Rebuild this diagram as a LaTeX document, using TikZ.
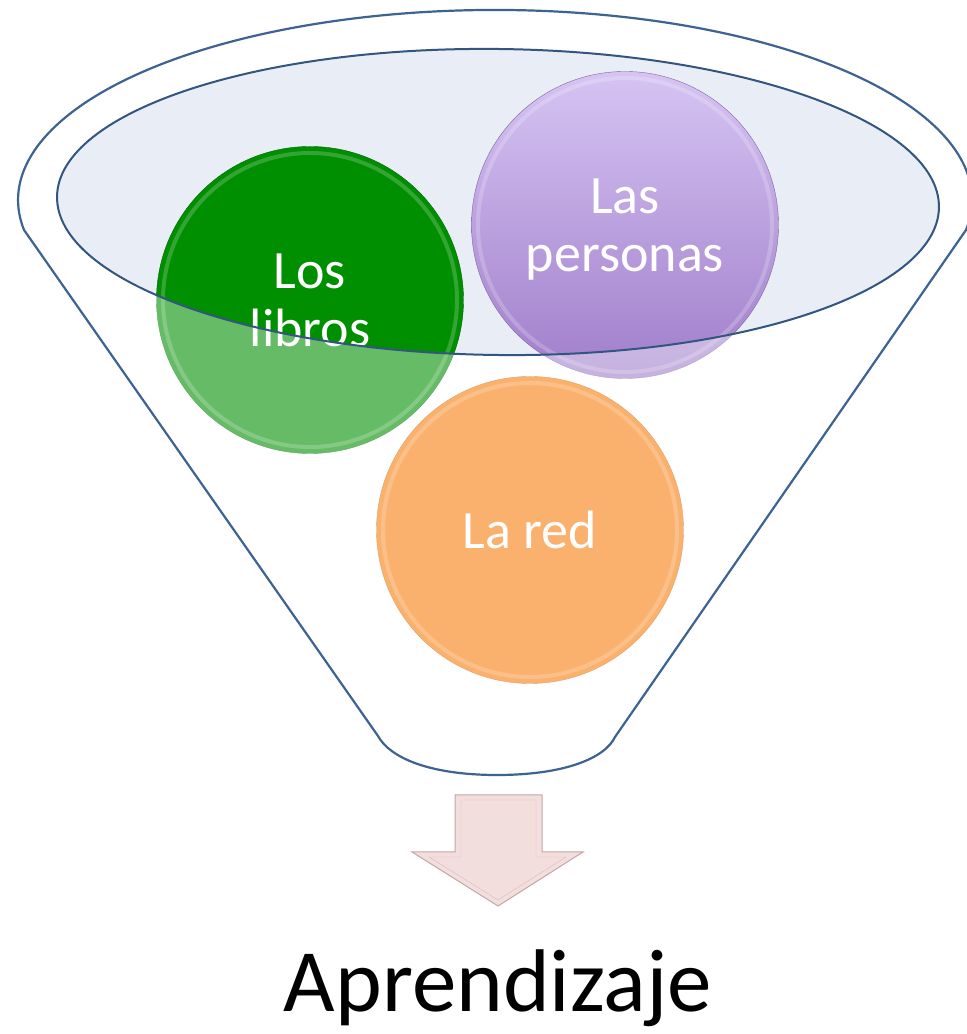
\documentclass[tikz,border=0pt]{standalone}
\usepackage{fontspec}
\setmainfont{Carlito}
\usepackage{tikz}
\usetikzlibrary{calc}
\definecolor{funnelline}{RGB}{62,98,145}
\definecolor{mouthline}{RGB}{50,86,128}
\definecolor{mouthfill}{RGB}{233,237,245}
\definecolor{librosgreen}{RGB}{0,143,0}
\definecolor{redorange}{RGB}{248,126,12}
\definecolor{persontop}{RGB}{214,196,243}
\definecolor{personbot}{RGB}{160,126,202}
\definecolor{arrowfill}{RGB}{243,222,222}
\definecolor{arrowline}{RGB}{196,166,166}

\begin{document}
\begin{tikzpicture}[x=1pt, y=1pt,
	ball/.style={circle, minimum size=307pt, inner sep=0pt, text=white, align=center, font=\fontsize{54}{58}\selectfont}]
	\useasboundingbox (0,0) rectangle (967,1034);
	\clip (0,0) rectangle (967,1034);
	\def\funnelpath{(966,804) arc[start angle=-9.1, end angle=189.1, x radius=477, y radius=190] -- (378,298) .. controls (390,276) and (430,259) .. (497,259) .. controls (565,259) and (605,276) .. (615,297) -- cycle}
	\def\mouthpath{(498,832) ellipse [x radius=441, y radius=153, rotate=-0.7]}
%
	\fill[white] \funnelpath;
	\fill[mouthfill] \mouthpath;
%
	\node[ball, fill=librosgreen, draw=green!40!black] (libros) at (310,734) {Los\\libros};
	\node[ball, top color=persontop, bottom color=personbot, draw=personbot!80!black] (personas) at (625,809) {Las\\\raisebox{0pt}[\height][0pt]{personas}};
	\node[ball, fill=redorange, draw=redorange!80!black] (red) at (530,504) {La red};
	\draw[white, opacity=.2, line width=4] (libros.center) circle[radius=147];
	\draw[white, opacity=.2, line width=4] (personas.center) circle[radius=147];
	\draw[white, opacity=.2, line width=4] (red.center) circle[radius=147];
%
	\fill[white, opacity=.4, even odd rule] \funnelpath \mouthpath;
	\draw[mouthline, line width=2] \mouthpath;
	\draw[funnelline, line width=2.2] \funnelpath;
%
	\filldraw[fill=arrowfill, draw=arrowline, line width=1] (455,239) -- (542,239) -- (542,182) -- (583,182) -- (498,128) -- (412,182) -- (455,182) -- cycle;
	\draw[arrowline, opacity=.6] (461,234) -- (536,234) -- (536,177) -- (566,177) -- (498,134) -- (429,177) -- (461,177) -- cycle;
	\node[font=\fontsize{89}{92}\selectfont, anchor=base] (aprendizaje) at (498,22) {Aprendizaje};
\end{tikzpicture}
\end{document}
